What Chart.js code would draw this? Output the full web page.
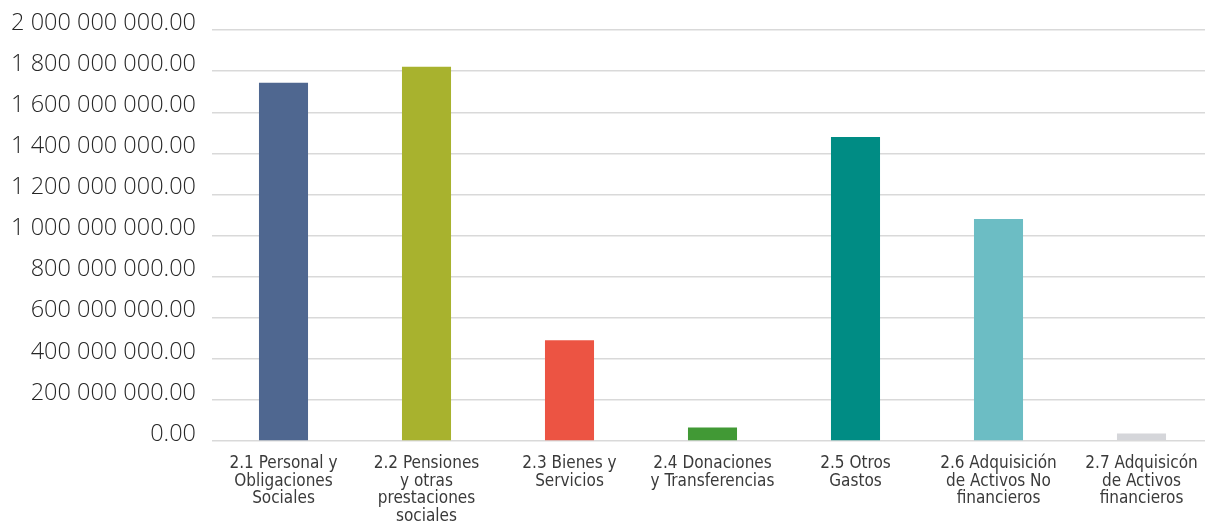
<!DOCTYPE html>
<html>
<head>
<meta charset="utf-8">
<script src="https://cdn.jsdelivr.net/npm/chart.js@4"></script>
<style>
  body { margin: 0; background: #fff; overflow: hidden; }
  /* plot runs a few pixels past the right edge, as in the original */
  #wrap { width: 1213px; height: 521px; }
</style>
</head>
<body>
<div id="wrap"><canvas id="chart"></canvas></div>
<script>
const categories = [
    ['2.1 Personal y', 'Obligaciones', 'Sociales'],
    ['2.2 Pensiones', 'y otras', 'prestaciones', 'sociales'],
    ['2.3 Bienes y', 'Servicios'],
    ['2.4 Donaciones', 'y Transferencias'],
    ['2.5 Otros', 'Gastos'],
    ['2.6 Adquisición', 'de Activos No', 'financieros'],
    ['2.7 Adquisicón', 'de Activos', 'financieros']
];
const amounts = [1744000000, 1822000000, 490000000, 66000000, 1480000000, 1080000000, 37000000];
const barColors = ['#4f6790', '#a8b22e', '#ec5443', '#419935', '#008c84', '#6cbdc4', '#d5d6da'];
const yMax = 2000000000;
const yStep = 200000000;

function formatAmount(v) {
    const parts = Number(v).toFixed(2).split('.');
    return parts[0].replace(/\B(?=(\d{3})+(?!\d))/g, ' ') + '.' + parts[1];
}

new Chart(document.getElementById('chart').getContext('2d'), {
    type: 'bar',
    data: {
        labels: categories,
        datasets: [{
            data: amounts,
            backgroundColor: barColors,
            categoryPercentage: 1,
            barPercentage: 0.343
        }]
    },
    options: {
        responsive: true,
        maintainAspectRatio: false,
        animation: false,
        layout: { padding: { top: 24, right: 0, left: 0, bottom: 0 } },
        plugins: {
            legend: { display: false },
            tooltip: { enabled: false }
        },
        scales: {
            x: {
                afterFit: scale => { scale.height = 80; },
                grid: { display: false },
                border: { display: false },
                ticks: {
                    color: '#3a3a3a',
                    padding: 6,
                    maxRotation: 0,
                    autoSkip: false,
                    font: { family: '"Liberation Sans Narrow", "DejaVu Sans Condensed", "Open Sans"', size: 17, lineHeight: 1.03 }
                }
            },
            y: {
                min: 0,
                max: yMax,
                afterFit: scale => { scale.width = 212; },
                grid: { color: '#d9d9d9', lineWidth: 1.5, drawTicks: false },
                border: { display: false },
                ticks: {
                    stepSize: yStep,
                    padding: 16,
                    labelOffset: -7,
                    color: '#262626',
                    font: { family: '"Open Sans"', size: 23.5, weight: 300 },
                    callback: v => formatAmount(v)
                }
            }
        }
    }
});
</script>
</body>
</html>
